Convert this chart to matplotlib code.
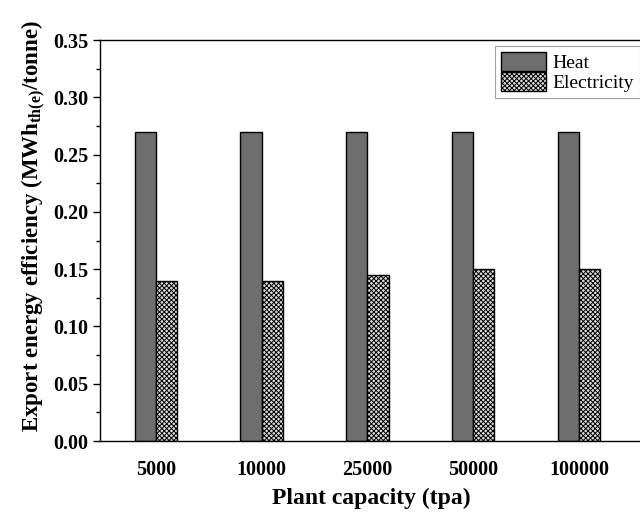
import numpy as np
import matplotlib.pyplot as plt

# Export energy efficiency by plant capacity
capacities = ['5000', '10000', '25000', '50000', '100000']
heat = [0.27, 0.27, 0.27, 0.27, 0.27]
electricity = [0.14, 0.14, 0.145, 0.15, 0.15]

plt.rcParams['font.family'] = ['Liberation Serif', 'DejaVu Serif']
plt.rcParams['hatch.linewidth'] = 0.7
plt.rcParams['hatch.color'] = '#4a4a4a'

fig = plt.figure(figsize=(6.4, 5.14), dpi=100)
ax = fig.add_axes([0.156, 0.142, 0.848, 0.780])

x = np.arange(1, len(capacities) + 1)
w = 0.2
ax.bar(x - w / 2, heat, w, color='#6e6e6e', edgecolor='black', linewidth=1.0, label='Heat')
ax.bar(x + w / 2, electricity, w, color='#dcdcdc', edgecolor='black', linewidth=1.0,
       hatch='xxxxxxx', label='Electricity')

ax.set_xlim(0.472, 5.6)
ax.set_ylim(0, 0.35)
ax.set_xticks(x)
ax.set_xticklabels(capacities, fontweight='bold', fontsize=14.5)
ax.tick_params(axis='x', length=0, pad=14)
ax.set_yticks(np.arange(0, 0.351, 0.05))
ax.set_yticks(np.arange(0.025, 0.35, 0.05), minor=True)
ax.set_yticklabels([f'{v:.2f}' for v in np.arange(0, 0.351, 0.05)], fontweight='bold', fontsize=14.5)
ax.tick_params(axis='y', which='major', length=5, width=1, direction='out', pad=3)
ax.tick_params(axis='y', which='minor', length=3, width=1, direction='out')

ax.set_ylabel('Export energy efficiency (MWh$_{\\mathregular{th(e)}}$/tonne)',
              fontweight='bold', fontsize=16.5, labelpad=4)
ax.yaxis.label.set_y(0.535)
ax.set_xlabel('Plant capacity (tpa)', fontweight='bold', fontsize=17, labelpad=5)

leg = ax.legend(loc='upper right', fontsize=14, frameon=True, fancybox=False,
                edgecolor='#888888', handlelength=2.3, handleheight=1.15,
                handletextpad=0.35, borderpad=0.3, labelspacing=0.0,
                borderaxespad=0.0, bbox_to_anchor=(640 / 640, 1 - 46 / 514),
                bbox_transform=fig.transFigure)
leg.get_frame().set_linewidth(0.8)

for s in ax.spines.values():
    s.set_linewidth(1.0)

fig.savefig('out.png', dpi=100)
